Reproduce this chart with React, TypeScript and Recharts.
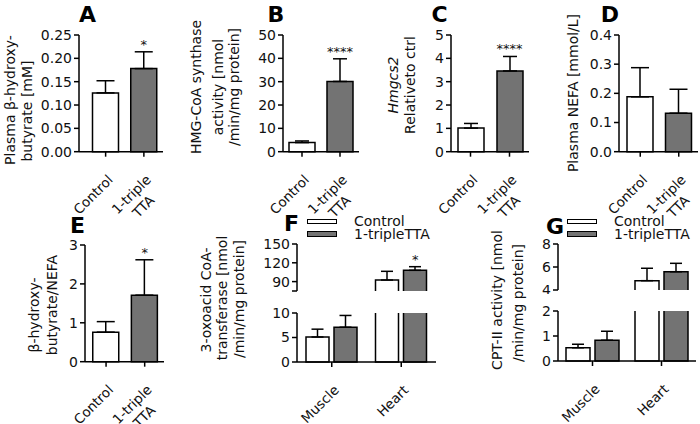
import React from 'react';
import { BarChart, Bar, XAxis, YAxis, Cell, ErrorBar, ReferenceDot, Legend } from 'recharts';

const FONT = '"DejaVu Sans", Arial, sans-serif';
const INK = '#111';
const GRAY = '#737373';
const WHITE = '#ffffff';

// ---- values (mean and upper SEM) ----
const groups = ['Control', '1-triple TTA'];
const groupFills = [WHITE, GRAY];

const bhbMean = [0.126, 0.178];
const bhbSem = [0.026, 0.036];
const bhbSig = ['', '*'];

const hmgcsActMean = [3.9, 30.1];
const hmgcsActSem = [0.7, 9.7];
const hmgcsActSig = ['', '****'];

const hmgcs2Mean = [1.01, 3.46];
const hmgcs2Sem = [0.2, 0.62];
const hmgcs2Sig = ['', '****'];

const nefaMean = [0.188, 0.132];
const nefaSem = [0.1, 0.082];
const nefaSig = ['', ''];

const ratioMean = [0.76, 1.71];
const ratioSem = [0.27, 0.91];
const ratioSig = ['', '*'];

const tissues = ['Muscle', 'Heart'];
const seriesNames = ['Control', '1-tripleTTA'];

const scotCtrl = [5.1, 92.5];
const scotCtrlSem = [1.6, 13.9];
const scotTta = [7.1, 108];
const scotTtaSem = [2.4, 5.8];
const scotTtaSig = ['', '*'];

const cptCtrl = [0.53, 4.81];
const cptCtrlSem = [0.14, 1.08];
const cptTta = [0.83, 5.59];
const cptTtaSem = [0.36, 0.73];
const cptTtaSig = ['', ''];

const ticksA = [0, 0.05, 0.1, 0.15, 0.2, 0.25];
const ticksB = [0, 10, 20, 30, 40, 50];
const ticksC = [0, 1, 2, 3, 4, 5];
const ticksD = [0, 0.1, 0.2, 0.3, 0.4];
const ticksE = [0, 1, 2, 3];
const ticksFUpper = [75, 90, 120, 150];
const ticksFLower = [0, 5, 10];
const ticksGUpper = [4, 6, 8];
const ticksGLower = [0, 1, 2];

// ---- layout helpers ----
const YW = 50;
const TOP_M = 12;
const RIGHT_M = 6;
const XH = 70;
const BOT_M = 4;

function frame(x0: number, x1: number, y0: number, y1: number, withX: boolean) {
  const width = x1 - x0 + YW + RIGHT_M;
  const height = y1 - y0 + TOP_M + (withX ? XH : 0) + BOT_M;
  return {
    style: { position: 'absolute' as const, left: x0 - YW, top: y0 - TOP_M, width, height },
    width,
    height,
    margin: { top: TOP_M, right: RIGHT_M, left: 0, bottom: BOT_M },
  };
}

const axisLine = { stroke: '#000', strokeWidth: 1.5 };
const yTick = { fontSize: 14, fill: INK, fontFamily: FONT };

function CatTick(props: any) {
  const { x, y, payload } = props;
  const lines = String(payload.value).split(' ');
  const ex = x + 8;
  const ey = y + 22;
  return (
    <text
      x={ex}
      y={ey}
      transform={`rotate(-45 ${ex} ${ey})`}
      textAnchor="end"
      fontSize={13.5}
      fontFamily={FONT}
      fill={INK}
    >
      {lines.map((l, i) => (
        <tspan key={i} x={ex - (i ? 12 : 0)} dy={i ? 17 : 0}>
          {l}
        </tspan>
      ))}
    </text>
  );
}

function starLabel(text: string, dx: number) {
  return (p: any) => {
    const vb = p.viewBox || {};
    const cx = (vb.x ?? 0) + (vb.width ?? 0) / 2 + dx;
    const cy = vb.y ?? 0;
    return (
      <text x={cx} y={cy - 2} textAnchor="middle" fontSize={13} fontFamily={FONT} fill={INK}>
        {text}
      </text>
    );
  };
}

// bar drawn with one open side where the axis is broken
const makeShape = (fill: string, cutKey: string | null) => (s: any) => {
  const { x, y, width: w, height: h, payload } = s;
  if (![x, y, w, h].every((v) => Number.isFinite(v)) || Math.abs(h) < 0.5) return <g />;
  const top = Math.min(y, y + h);
  const bot = Math.max(y, y + h);
  const openTop = cutKey ? !!payload?.[cutKey] : false;
  const openBottom = cutKey === null;
  let d = `M${x},${top} H${x + w} V${bot} H${x} Z`;
  if (openTop) d = `M${x},${top} V${bot} H${x + w} V${top}`;
  if (openBottom) d = `M${x},${bot} V${top} H${x + w} V${bot}`;
  return (
    <g>
      <rect x={x} y={top} width={w} height={bot - top} fill={fill} stroke="none" />
      <path d={d} fill="none" stroke="#000" strokeWidth={1.5} />
    </g>
  );
};

type SimpleCfg = {
  mean: number[];
  sem: number[];
  sig: string[];
  ticks: number[];
  dec: number;
  x0: number;
  x1: number;
  y0: number;
  y1: number;
  padLeft: number;
  cap: number;
};

function SimplePanel({ p }: { p: SimpleCfg }) {
  const f = frame(p.x0, p.x1, p.y0, p.y1, true);
  const data = groups.map((g, i) => ({ name: g, mean: p.mean[i], err: [0, p.sem[i]] }));
  return (
    <div style={f.style}>
      <BarChart width={f.width} height={f.height} data={data} margin={f.margin}>
        <XAxis
          dataKey="name"
          interval={0}
          height={XH}
          padding={{ left: p.padLeft, right: 0 }}
          tick={CatTick}
          tickSize={5}
          tickLine={axisLine}
          axisLine={axisLine}
        />
        <YAxis
          width={YW}
          domain={[p.ticks[0], p.ticks[p.ticks.length - 1]]}
          ticks={p.ticks}
          interval={0}
          tickFormatter={(v: number) => v.toFixed(p.dec)}
          tick={yTick}
          tickSize={5}
          tickMargin={2}
          tickLine={axisLine}
          axisLine={axisLine}
        />
        <Bar dataKey="mean" barSize={26} stroke="#000" strokeWidth={1.5} isAnimationActive={false}>
          {data.map((d, i) => (
            <Cell key={i} fill={groupFills[i]} />
          ))}
          <ErrorBar dataKey="err" width={p.cap} stroke="#000" strokeWidth={1.5} direction="y" isAnimationActive={false} />
        </Bar>
        {p.sig.map((s, i) =>
          s ? (
            <ReferenceDot
              key={i}
              x={groups[i]}
              y={p.mean[i] + p.sem[i]}
              r={1}
              fill="none"
              stroke="none"
              label={starLabel(s, 0)}
            />
          ) : null,
        )}
      </BarChart>
    </div>
  );
}

type BrokenCfg = {
  ctrl: number[];
  ctrlSem: number[];
  tta: number[];
  ttaSem: number[];
  ttaSig: string[];
  upTicks: number[];
  lowTicks: number[];
  hideUpMin: boolean;
  x0: number;
  x1: number;
  uy0: number;
  uy1: number;
  ly0: number;
  ly1: number;
  barSize: number;
  gap: number;
  cap: number;
  legendLeft: number;
  legendTop: number;
};

function LegendContent({ payload }: any) {
  const items = [...(payload || [])].sort(
    (a: any, b: any) => seriesNames.indexOf(a.value) - seriesNames.indexOf(b.value),
  );
  return (
    <div style={{ fontFamily: FONT, fontSize: 14, color: INK }}>
      {items.map((e: any) => (
        <div key={e.value} style={{ display: 'flex', alignItems: 'center', height: 12.5, lineHeight: '12.5px', whiteSpace: 'nowrap' }}>
          <span
            style={{
              display: 'inline-block',
              boxSizing: 'border-box',
              width: 30,
              height: 5.5,
              border: '1.5px solid #000',
              background: e.color,
              marginRight: 17,
            }}
          />
          <span>{e.value}</span>
        </div>
      ))}
    </div>
  );
}

function BrokenPanel({ p }: { p: BrokenCfg }) {
  const up = frame(p.x0, p.x1, p.uy0, p.uy1, false);
  const lo = frame(p.x0, p.x1, p.ly0, p.ly1, true);
  const lowMax = p.lowTicks[p.lowTicks.length - 1];
  const upMin = p.upTicks[0];
  const lower = tissues.map((t, i) => ({
    name: t,
    ctrl: Math.min(p.ctrl[i], lowMax),
    tta: Math.min(p.tta[i], lowMax),
    ctrlCut: p.ctrl[i] > lowMax,
    ttaCut: p.tta[i] > lowMax,
    ctrlErr: p.ctrl[i] > lowMax ? null : [0, p.ctrlSem[i]],
    ttaErr: p.tta[i] > lowMax ? null : [0, p.ttaSem[i]],
  }));
  const upper = tissues.map((t, i) => ({
    name: t,
    ctrl: p.ctrl[i] > upMin ? p.ctrl[i] : null,
    tta: p.tta[i] > upMin ? p.tta[i] : null,
    ctrlErr: p.ctrl[i] > upMin ? [0, p.ctrlSem[i]] : null,
    ttaErr: p.tta[i] > upMin ? [0, p.ttaSem[i]] : null,
  }));
  const yCommon = {
    width: YW,
    interval: 0 as const,
    tick: yTick,
    tickSize: 5,
    tickMargin: 2,
    tickLine: axisLine,
    axisLine: axisLine,
  };
  const errProps = { width: p.cap, stroke: '#000', strokeWidth: 1.5, direction: 'y' as const, isAnimationActive: false };
  return (
    <>
      <div style={up.style}>
        <BarChart width={up.width} height={up.height} data={upper} margin={up.margin} barGap={p.gap}>
          <XAxis dataKey="name" hide padding={{ left: 0, right: 0 }} />
          <YAxis
            {...yCommon}
            domain={[upMin, p.upTicks[p.upTicks.length - 1]]}
            ticks={p.upTicks}
            tickFormatter={(v: number) => (p.hideUpMin && v === upMin ? '' : String(v))}
          />
          <Bar dataKey="ctrl" name={seriesNames[0]} fill={WHITE} barSize={p.barSize} shape={makeShape(WHITE, null)} isAnimationActive={false}>
            <ErrorBar dataKey="ctrlErr" {...errProps} />
          </Bar>
          <Bar dataKey="tta" name={seriesNames[1]} fill={GRAY} barSize={p.barSize} shape={makeShape(GRAY, null)} isAnimationActive={false}>
            <ErrorBar dataKey="ttaErr" {...errProps} />
          </Bar>
          {p.ttaSig.map((s, i) =>
            s ? (
              <ReferenceDot
                key={i}
                x={tissues[i]}
                y={p.tta[i] + p.ttaSem[i]}
                r={1}
                fill="none"
                stroke="none"
                label={starLabel(s, (p.barSize + p.gap) / 2)}
              />
            ) : null,
          )}
          <Legend
            layout="vertical"
            align="center"
            verticalAlign="middle"
            content={LegendContent}
            wrapperStyle={{ left: p.legendLeft, top: p.legendTop, width: 'auto', height: 'auto' }}
          />
        </BarChart>
      </div>
      <div style={lo.style}>
        <BarChart width={lo.width} height={lo.height} data={lower} margin={lo.margin} barGap={p.gap}>
          <XAxis
            dataKey="name"
            interval={0}
            height={XH}
            padding={{ left: 0, right: 0 }}
            tick={CatTick}
            tickSize={5}
            tickLine={axisLine}
            axisLine={axisLine}
          />
          <YAxis {...yCommon} domain={[p.lowTicks[0], lowMax]} ticks={p.lowTicks} />
          <Bar dataKey="ctrl" name={seriesNames[0]} fill={WHITE} barSize={p.barSize} shape={makeShape(WHITE, 'ctrlCut')} isAnimationActive={false}>
            <ErrorBar dataKey="ctrlErr" {...errProps} />
          </Bar>
          <Bar dataKey="tta" name={seriesNames[1]} fill={GRAY} barSize={p.barSize} shape={makeShape(GRAY, 'ttaCut')} isAnimationActive={false}>
            <ErrorBar dataKey="ttaErr" {...errProps} />
          </Bar>
        </BarChart>
      </div>
    </>
  );
}

const panelA: SimpleCfg = { mean: bhbMean, sem: bhbSem, sig: bhbSig, ticks: ticksA, dec: 2, x0: 79, x1: 163, y0: 35, y1: 151.7, padLeft: 7.5, cap: 9 };
const panelB: SimpleCfg = { mean: hmgcsActMean, sem: hmgcsActSem, sig: hmgcsActSig, ticks: ticksB, dec: 0, x0: 283, x1: 359, y0: 35, y1: 151.7, padLeft: 0, cap: 7 };
const panelC: SimpleCfg = { mean: hmgcs2Mean, sem: hmgcs2Sem, sig: hmgcs2Sig, ticks: ticksC, dec: 0, x0: 451, x1: 529, y0: 35, y1: 151.7, padLeft: 0, cap: 7 };
const panelD: SimpleCfg = { mean: nefaMean, sem: nefaSem, sig: nefaSig, ticks: ticksD, dec: 1, x0: 619, x1: 698, y0: 35, y1: 151.7, padLeft: 2, cap: 9 };
const panelE: SimpleCfg = { mean: ratioMean, sem: ratioSem, sig: ratioSig, ticks: ticksE, dec: 0, x0: 85, x1: 164, y0: 245, y1: 361.7, padLeft: 1.75, cap: 9 };

const panelF: BrokenCfg = {
  ctrl: scotCtrl, ctrlSem: scotCtrlSem, tta: scotTta, ttaSem: scotTtaSem, ttaSig: scotTtaSig,
  upTicks: ticksFUpper, lowTicks: ticksFLower, hideUpMin: true,
  x0: 297, x1: 436, uy0: 244, uy1: 291, ly0: 312.7, ly1: 361.7,
  barSize: 23, gap: 5, cap: 6, legendLeft: 60, legendTop: -17,
};
const panelG: BrokenCfg = {
  ctrl: cptCtrl, ctrlSem: cptCtrlSem, tta: cptTta, ttaSem: cptTtaSem, ttaSig: cptTtaSig,
  upTicks: ticksGUpper, lowTicks: ticksGLower, hideUpMin: false,
  x0: 558, x1: 696, uy0: 244, uy1: 290, ly0: 310.7, ly1: 360.7,
  barSize: 24, gap: 5, cap: 6, legendLeft: 59, legendTop: -17,
};

const panelTitles = [
  { t: 'A', x: 87.5, y: 22 },
  { t: 'B', x: 276, y: 22 },
  { t: 'C', x: 439.5, y: 22 },
  { t: 'D', x: 610, y: 22 },
  { t: 'E', x: 77.5, y: 233 },
  { t: 'F', x: 291.5, y: 231 },
  { t: 'G', x: 555, y: 234 },
];

const axisTitles = [
  { t: 'Plasma β-hydroxy-', x: 10, y: 100 },
  { t: 'butyrate [mM]', x: 27, y: 111 },
  { t: 'HMG-CoA synthase', x: 196, y: 87 },
  { t: 'activity [nmol', x: 218, y: 87 },
  { t: '/min/mg protein]', x: 234, y: 87 },
  { t: 'Hmgcs2', x: 393, y: 85, italic: true },
  { t: 'Relativeto ctrl', x: 410, y: 85 },
  { t: 'Plasma NEFA [mmol/L]', x: 573, y: 93 },
  { t: 'β-hydroxy-', x: 34, y: 315 },
  { t: 'butyrate/NEFA', x: 52, y: 305 },
  { t: '3-oxoacid CoA-', x: 206, y: 300 },
  { t: 'transferase [nmol', x: 222, y: 298 },
  { t: '/min/mg protein]', x: 239, y: 299 },
  { t: 'CPT-II activity [nmol', x: 497, y: 300 },
  { t: '/min/mg protein]', x: 518, y: 303 },
];

export default function App() {
  return (
    <div
      style={{
        position: 'absolute',
        left: 0,
        top: 0,
        width: 700,
        height: 424,
        overflow: 'hidden',
        background: '#fff',
        fontFamily: FONT,
      }}
    >
      <SimplePanel p={panelA} />
      <SimplePanel p={panelB} />
      <SimplePanel p={panelC} />
      <SimplePanel p={panelD} />
      <SimplePanel p={panelE} />
      <BrokenPanel p={panelF} />
      <BrokenPanel p={panelG} />
      <svg width={700} height={424} style={{ position: 'absolute', left: 0, top: 0, pointerEvents: 'none' }}>
        {panelTitles.map((d) => (
          <text key={d.t} x={d.x} y={d.y} textAnchor="middle" fontSize={22} fontWeight="bold" fontFamily={FONT} fill="#000">
            {d.t}
          </text>
        ))}
        {axisTitles.map((d, i) => (
          <text
            key={i}
            x={d.x}
            y={d.y}
            transform={`rotate(-90 ${d.x} ${d.y})`}
            textAnchor="middle"
            dominantBaseline="central"
            fontSize={14}
            fontStyle={d.italic ? 'italic' : 'normal'}
            fontFamily={FONT}
            fill={INK}
          >
            {d.t}
          </text>
        ))}
      </svg>
    </div>
  );
}
